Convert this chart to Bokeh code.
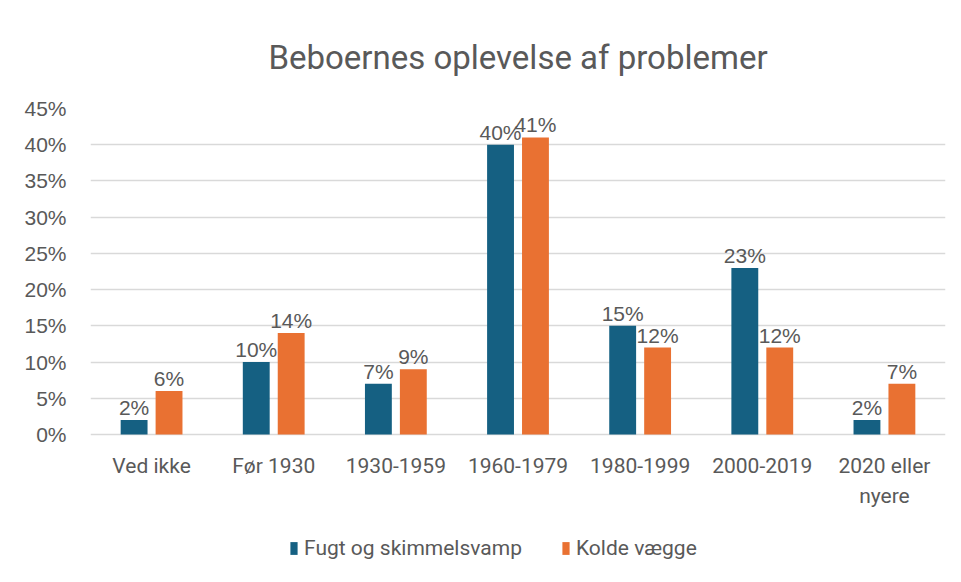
from bokeh.plotting import figure
from bokeh.models import ColumnDataSource, LabelSet, Legend, LegendItem, NumeralTickFormatter, FixedTicker, Range1d
from bokeh.core.properties import value
from bokeh.transform import dodge
from bokeh.embed import file_html
from bokeh.resources import INLINE

categories = ["Ved ikke", "Før 1930", "1930-1959", "1960-1979", "1980-1999", "2000-2019", "2020 eller\nnyere"]
fugt = [0.02, 0.10, 0.07, 0.40, 0.15, 0.23, 0.02]
kolde = [0.06, 0.14, 0.09, 0.41, 0.12, 0.12, 0.07]
series_names = ["Fugt og skimmelsvamp", "Kolde vægge"]
y_ticks = [0, 0.05, 0.10, 0.15, 0.20, 0.25, 0.30, 0.35, 0.40, 0.45]

BLUE = "#156082"
ORANGE = "#E97132"
GRAY = "#595959"
GRID = "#d9d9d9"

line1 = [c.split("\n")[0] for c in categories]
line2 = [c.split("\n")[1] if "\n" in c else "" for c in categories]

src = ColumnDataSource(dict(
    cat=categories, fugt=fugt, kolde=kolde, zero=[0] * len(categories),
    line1=line1, line2=line2,
    fugt_lbl=[f"{round(v*100)}%" for v in fugt],
    kolde_lbl=[f"{round(v*100)}%" for v in kolde],
))

# frame spans from the 45% line down to the legend area; value axis 0..45% occupies 326 px
Y_TOP = 0.45
Y_BOTTOM = -Y_TOP * 141 / 326

p = figure(width=960, height=580, x_range=categories, y_range=Range1d(Y_BOTTOM, Y_TOP),
           output_backend="svg", toolbar_location=None,
           min_border_left=90, min_border_right=15, min_border_top=108, min_border_bottom=5)

p.title.text = "Beboernes oplevelse af problemer"
p.title.align = "center"
p.title.offset = -27
p.title.text_font = "Roboto"
p.title.text_font_style = "normal"
p.title.text_font_size = "33px"
p.title.text_color = GRAY
p.title.standoff = 64

w = 0.22
off = 0.143
r1 = p.vbar(x=dodge("cat", -off, range=p.x_range), top="fugt", width=w, source=src,
            fill_color=BLUE, line_color=None)
r2 = p.vbar(x=dodge("cat", off, range=p.x_range), top="kolde", width=w, source=src,
            fill_color=ORANGE, line_color=None)

for col, lbl, dx in (("fugt", "fugt_lbl", -off), ("kolde", "kolde_lbl", off)):
    ls = LabelSet(x=dodge("cat", dx, range=p.x_range), y=col, text=lbl, source=src,
                  text_align="center", text_baseline="bottom", y_offset=1,
                  text_font=value("Liberation Sans"), text_font_size="21px", text_color=GRAY)
    p.add_layout(ls)

# category labels under the zero line (two lines for wrapped labels)
for col, yoff in (("line1", -31), ("line2", -61)):
    p.add_layout(LabelSet(x="cat", y="zero", text=col, source=src,
                          text_align="center", text_baseline="middle", y_offset=yoff,
                          text_font=value("Roboto"), text_font_size="21px", text_color=GRAY))

p.yaxis.ticker = FixedTicker(ticks=y_ticks)
p.yaxis.formatter = NumeralTickFormatter(format="0%")
p.yaxis.axis_line_color = None
p.yaxis.major_tick_line_color = None
p.yaxis.minor_tick_line_color = None
p.yaxis.major_label_text_font = "Liberation Sans"
p.yaxis.major_label_text_font_size = "21px"
p.yaxis.major_label_text_color = GRAY
p.yaxis.major_label_standoff = 18

p.xaxis.visible = False

p.xgrid.grid_line_color = None
p.ygrid.grid_line_color = GRID
p.ygrid.grid_line_width = 1.5
p.outline_line_color = None

legend = Legend(items=[LegendItem(label=series_names[0], renderers=[r1]),
                       LegendItem(label=series_names[1], renderers=[r2])],
                orientation="horizontal", location=(199, 15),
                label_text_font="Roboto", label_text_font_size="21px", label_text_color=GRAY,
                glyph_width=9, glyph_height=16, spacing=39, border_line_color=None,
                background_fill_alpha=0, margin=0, padding=0, label_standoff=6)
p.add_layout(legend, "center")

open("out.html", "w").write(file_html(p, INLINE))
